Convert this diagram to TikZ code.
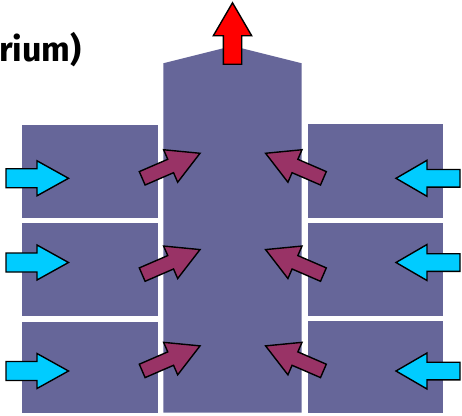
\documentclass[tikz,border=0pt]{standalone}
\usepackage{fontspec}
\newfontfamily\titlefont{Fira Sans}
\definecolor{slate}{HTML}{666699}
\definecolor{skyc}{HTML}{00CCFF}
\definecolor{plum}{HTML}{993366}
\tikzset{
  panel/.style={fill=slate, draw=none},
  arrowline/.style={draw=black, line width=1.4pt, line join=miter},
}
% #1 colour, #2 tail x, #3 tail y, #4 angle, #5 length, #6 head length, #7 head half width, #8 shaft half width
\newcommand{\myblockarrow}[8]{%
  \begin{scope}[shift={(#2,#3)},rotate=#4]
    \filldraw[arrowline, fill=#1] (0,-#8) -- ({#5-#6},-#8) -- ({#5-#6},-#7) -- (#5,0)
      -- ({#5-#6},#7) -- ({#5-#6},#8) -- (0,#8) -- cycle;
  \end{scope}}
\begin{document}
\begin{tikzpicture}[x=1pt,y=1pt]
\useasboundingbox (0,0) rectangle (462,415);
% left boxes
\fill[panel] (21.7,197.3) rectangle (157.7,290);
\fill[panel] (21.7,99.3) rectangle (157.7,191.7);
\fill[panel] (21.7,1.7) rectangle (157.7,93.3);
% right boxes
\fill[panel] (307.7,197.3) rectangle (443.3,291);
\fill[panel] (307.7,99.3) rectangle (443.3,192);
\fill[panel] (307.7,1.7) rectangle (443.3,94);
% centre column
\fill[panel] (163.3,2.3) -- (163.3,351.7) -- (232.5,369) -- (301.7,351.7) -- (301.7,2.3) -- cycle;
% text
\node[anchor=base west, inner sep=0pt, font=\titlefont\bfseries\fontsize{34}{40}\selectfont] (title) at (-1,353) {rium)};
% cyan arrows left
\myblockarrow{skyc}{6}{236.7}{0}{62.5}{31.5}{17.5}{9.5}
\myblockarrow{skyc}{6}{152.5}{0}{62.5}{31.5}{17.5}{9.5}
\myblockarrow{skyc}{6}{44}{0}{62.5}{31.5}{17.5}{9.5}
% cyan arrows right
\myblockarrow{skyc}{460}{236.7}{180}{64}{31}{18}{8.8}
\myblockarrow{skyc}{460}{152.5}{180}{64}{31}{18}{8.8}
\myblockarrow{skyc}{460}{44}{180}{64}{31}{18}{8.8}
% plum arrows left
\myblockarrow{plum}{142.2}{236.7}{23.4}{63}{32}{17.7}{7.3}
\myblockarrow{plum}{142.2}{140.4}{23.4}{63}{32}{17.7}{7.3}
\myblockarrow{plum}{142.2}{44.1}{23.4}{63}{32}{17.7}{7.3}
% plum arrows right
\myblockarrow{plum}{323.4}{236.7}{156.6}{63}{32}{17.7}{7.3}
\myblockarrow{plum}{323.4}{140.4}{156.6}{63}{32}{17.7}{7.3}
\myblockarrow{plum}{323.4}{44.1}{156.6}{63}{32}{17.7}{7.3}
% red arrow
\myblockarrow{red}{232.5}{350.7}{90}{61.5}{33}{19.2}{9.2}
\end{tikzpicture}
\end{document}
